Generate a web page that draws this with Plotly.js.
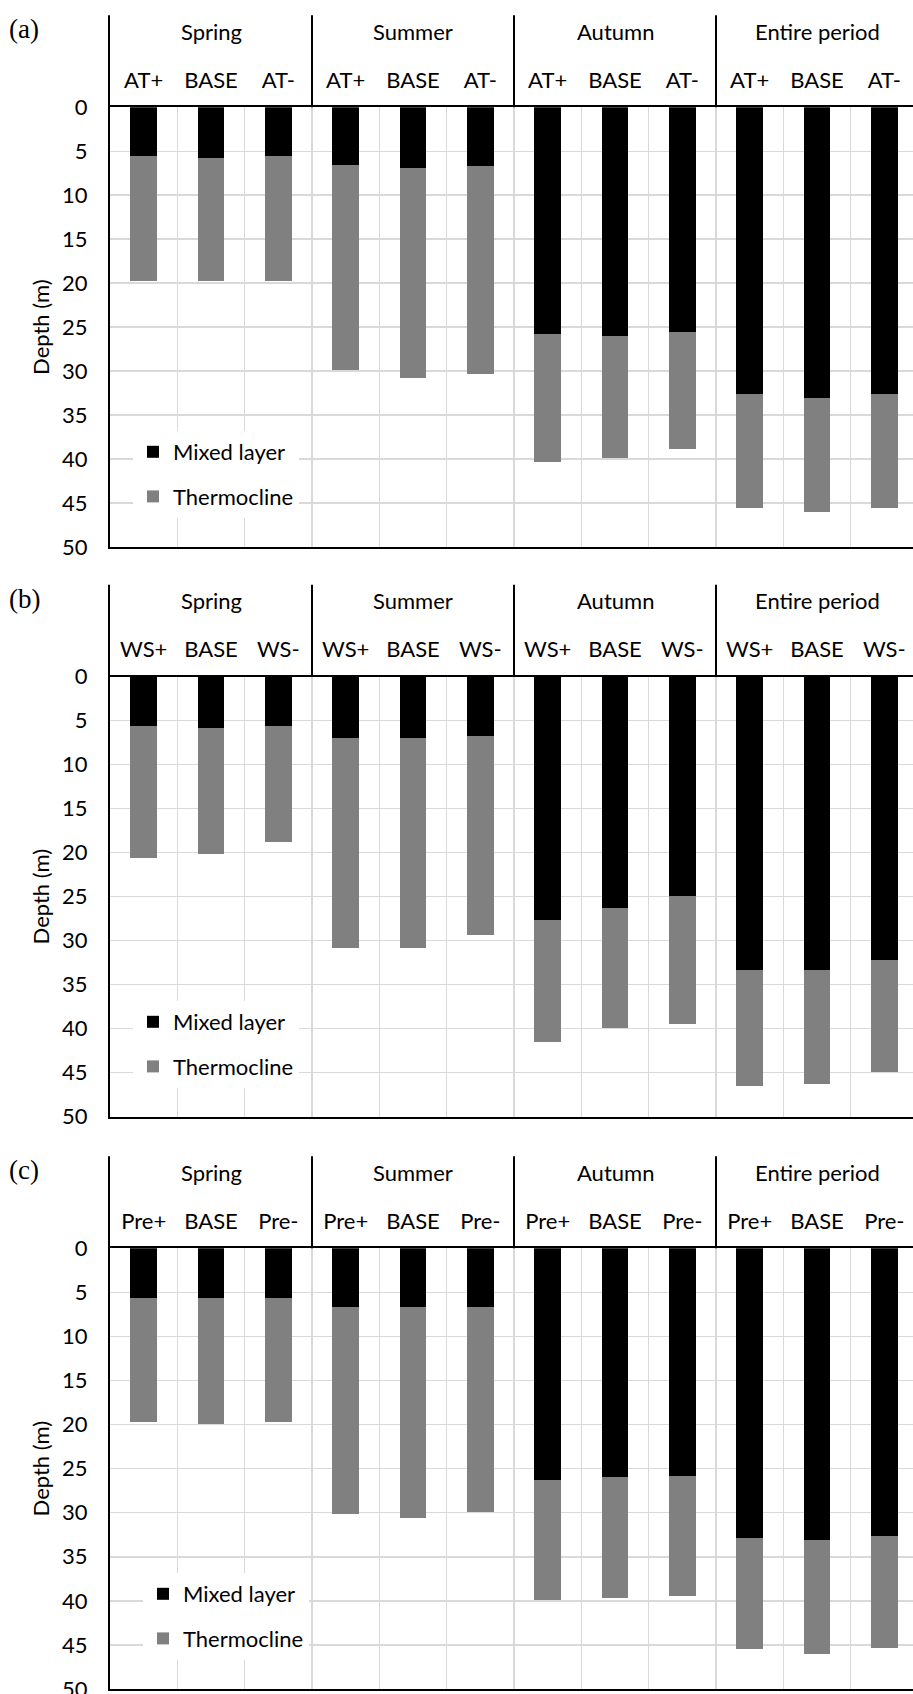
<!DOCTYPE html>
<html>
<head>
<meta charset="utf-8">
<script src="https://cdn.plot.ly/plotly-3.0.1.min.js"></script>
<style>html,body{margin:0;padding:0;overflow:hidden;background:#fff}</style>
</head>
<body>
<div id="chart"></div>
<script>
// ---------------- data ----------------
const seasons = ['Spring', 'Summer', 'Autumn', 'Entire period'];
const scenariosA = ['AT+', 'BASE', 'AT-'];
const scenariosB = ['WS+', 'BASE', 'WS-'];
const scenariosC = ['Pre+', 'BASE', 'Pre-'];
const seriesNames = ['Mixed layer', 'Thermocline'];
const panelLabels = ['(a)', '(b)', '(c)'];
const depthTitle = 'Depth (m)';

// mixed layer depth (m) and thermocline thickness (m), ordered season by season
const mixedA  = [5.5, 5.8, 5.5, 6.6, 6.9, 6.7, 25.8, 26.0, 25.6, 32.6, 33.1, 32.6];
const thermoA = [14.2, 14.0, 14.3, 23.3, 23.9, 23.6, 14.5, 13.9, 13.2, 13.0, 12.9, 13.0];
const mixedB  = [5.6, 5.8, 5.6, 7.0, 7.0, 6.7, 27.6, 26.3, 24.9, 33.3, 33.3, 32.2];
const thermoB = [15.0, 14.4, 13.2, 23.8, 23.8, 22.7, 13.9, 13.6, 14.6, 13.2, 13.0, 12.7];
const mixedC  = [5.6, 5.6, 5.6, 6.7, 6.7, 6.7, 26.3, 26.0, 25.8, 32.9, 33.1, 32.6];
const thermoC = [14.1, 14.3, 14.1, 23.5, 23.9, 23.2, 13.6, 13.7, 13.7, 12.6, 12.9, 12.7];

// ---------------- layout helpers ----------------
const W = 920, H = 1706;   // figure slightly larger than the 913x1694 window (clipped like the reference)
const FONT = 'Lato, "Open Sans", "DejaVu Sans", sans-serif';
const SERIF = '"Liberation Serif", "DejaVu Serif", serif';
const FS = 22;
const GRID = '#d9d9d9';
const COLORS = ['#000000', '#808080'];
const PLOT_L = 110, PLOT_R = 918;

const panels = [
  {scen: scenariosA, mixed: mixedA, thermo: thermoA, top: 107.3, bottom: 547.0, legX: 133, legY: 431},
  {scen: scenariosB, mixed: mixedB, thermo: thermoB, top: 676.7, bottom: 1116.7, legX: 133, legY: 1001},
  {scen: scenariosC, mixed: mixedC, thermo: thermoC, top: 1248.3, bottom: 1689.0, legX: 143, legY: 1573}
];

const traces = [];
const layout = {
  width: W, height: H,
  margin: {l: 0, r: 0, t: 0, b: 0},
  paper_bgcolor: '#fff', plot_bgcolor: '#fff',
  barmode: 'stack', bargap: 0.6,
  font: {family: FONT, size: FS, color: '#000'},
  showlegend: true,
  annotations: [], shapes: []
};

panels.forEach((p, i) => {
  const sfx = i === 0 ? '' : String(i + 1);
  const xName = 'x' + sfx, yName = 'y' + sfx;
  const legName = 'legend' + sfx;
  const xs = [], labels = [];
  seasons.forEach((s, si) => p.scen.forEach((c, ci) => { xs.push(si * p.scen.length + ci); labels.push(c); }));
  const n = xs.length;
  const bounds = [];
  for (let k = 0; k < n - 1; k++) bounds.push(k + 0.5);

  [p.mixed, p.thermo].forEach((vals, si) => {
    traces.push({
      type: 'bar', x: xs, y: vals, name: seriesNames[si],
      xaxis: xName, yaxis: yName, legend: legName,
      legendgroup: 'g' + si,
      marker: {color: COLORS[si], line: {width: 0}},
      hoverinfo: 'skip'
    });
  });

  const h = p.bottom - p.top;
  layout['xaxis' + sfx] = {
    domain: [PLOT_L / W, PLOT_R / W], anchor: yName,
    range: [-0.5, n - 0.5], side: 'top',
    tickmode: 'array', tickvals: xs, ticktext: labels,
    ticks: '', showgrid: false, zeroline: false,
    minor: {tickmode: 'array', tickvals: bounds, showgrid: true, gridcolor: GRID, gridwidth: 1.5, ticks: ''},
    showline: true, linecolor: '#000', linewidth: 2, mirror: true,
    tickfont: {family: FONT, size: FS, color: '#000'},
    ticklabelstandoff: 9, fixedrange: true
  };
  layout['yaxis' + sfx] = {
    domain: [1 - p.bottom / H, 1 - p.top / H], anchor: xName,
    range: [50, 0], tick0: 0, dtick: 5,
    showgrid: true, gridcolor: GRID, gridwidth: 1.5, zeroline: false,
    showline: true, linecolor: '#000', linewidth: 2,
    ticks: '', tickfont: {family: FONT, size: FS, color: '#000'},
    ticklabelstandoff: 16,
    title: {text: depthTitle, font: {family: FONT, size: FS, color: '#000'}, standoff: 6},
    fixedrange: true
  };
  layout[legName] = {
    x: p.legX / W, y: 1 - p.legY / H, xanchor: 'left', yanchor: 'top',
    xref: 'paper', yref: 'paper',
    bgcolor: '#fff', borderwidth: 0,
    font: {family: FONT, size: FS, color: '#000'},
    traceorder: 'grouped', tracegroupgap: 13, itemwidth: 30
  };

  // group (season) labels above the scenario labels
  seasons.forEach((s, si) => {
    layout.annotations.push({
      text: s, xref: xName, yref: yName + ' domain',
      x: si * p.scen.length + (p.scen.length - 1) / 2, y: 1 + 76 / h,
      xanchor: 'center', yanchor: 'middle', showarrow: false,
      font: {family: FONT, size: FS, color: '#000'}
    });
  });
  // panel letter
  layout.annotations.push({
    text: panelLabels[i], xref: 'paper', yref: yName + ' domain',
    x: 7 / W, y: 1 + 78 / h, xanchor: 'left', yanchor: 'middle', showarrow: false,
    font: {family: SERIF, size: 27, color: '#000'}
  });
  // header dividers between seasons (and left edge)
  for (let si = 0; si < seasons.length; si++) {
    const xb = si * p.scen.length - 0.5;
    layout.shapes.push({
      type: 'line', xref: si === 0 ? 'paper' : xName, yref: yName + ' domain',
      x0: si === 0 ? (PLOT_L - 1) / W : xb, x1: si === 0 ? (PLOT_L - 1) / W : xb,
      y0: 1, y1: 1 + 92 / h,
      line: {color: '#000', width: 2}
    });
  }
});

Plotly.newPlot('chart', traces, layout, {displayModeBar: false, staticPlot: true});
</script>
</body>
</html>
